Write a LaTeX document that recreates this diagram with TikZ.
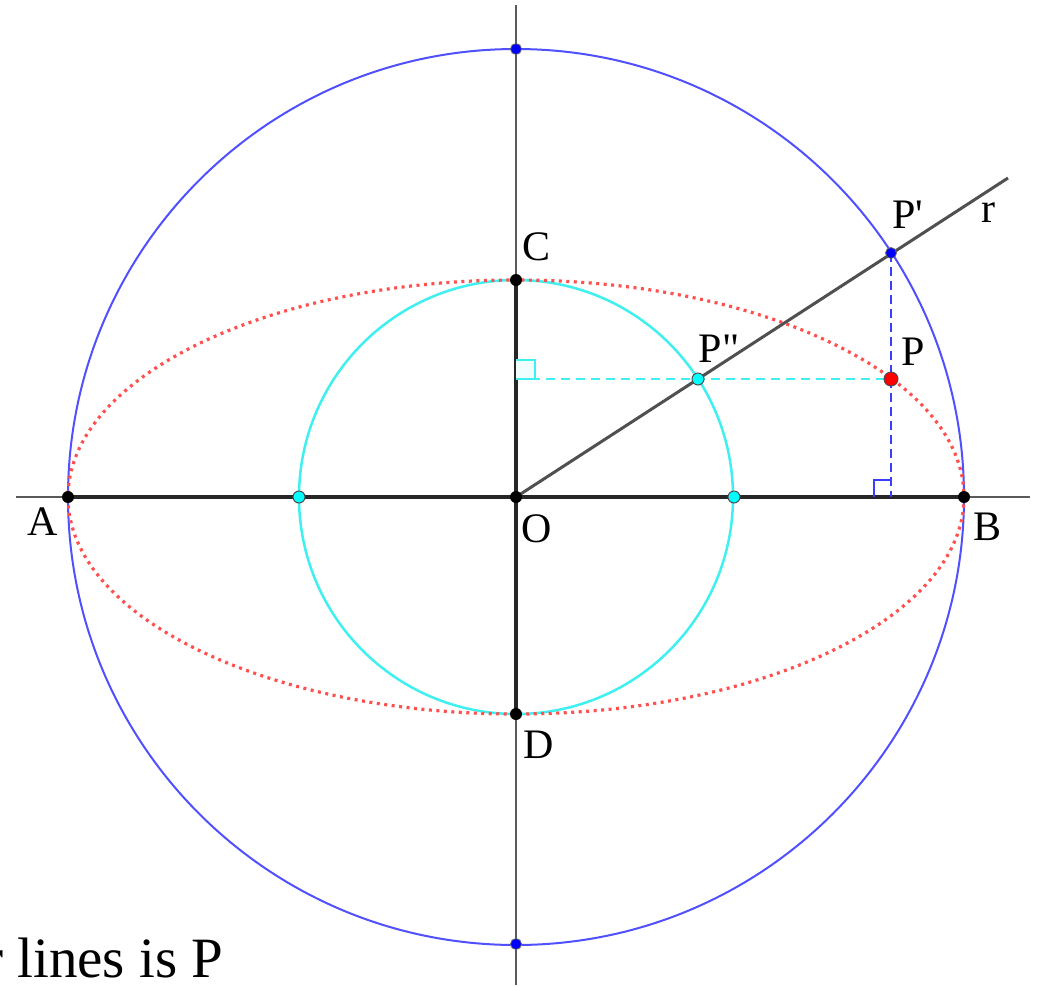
\documentclass[tikz,border=0pt]{standalone}
\usepackage{fontspec}
\setmainfont{Liberation Serif}
\newfontfamily\labfont{Liberation Serif}
\definecolor{cblue}{RGB}{80,80,255}
\definecolor{cdblue}{RGB}{60,60,255}
\definecolor{ccyan}{RGB}{64,240,240}
\definecolor{cdotc}{RGB}{0,255,255}
\definecolor{cred}{RGB}{255,80,80}
\definecolor{cgray}{RGB}{90,90,90}
\definecolor{crline}{RGB}{80,80,80}
\definecolor{cdotb}{RGB}{0,0,255}
\definecolor{cdotr}{RGB}{255,0,0}
\begin{document}
\begin{tikzpicture}[x=1pt,y=-1pt,
  bluec/.style={draw=cblue,line width=2pt},
  cyanc/.style={draw=ccyan,line width=2.5pt},
  redell/.style={draw=cred,line width=3.2pt,dash pattern=on 3pt off 4.5pt},
  axis/.style={draw=cgray,line width=1.6pt},
  seg/.style={draw=black!85,line width=3.5pt},
  rline/.style={draw=crline,line width=3pt},
  cdash/.style={draw=ccyan,line width=2.5pt,dash pattern=on 9pt off 6pt},
  bdash/.style={draw=cdblue,line width=2.2pt,dash pattern=on 9pt off 5pt},
  bdot/.style={circle,fill=black,inner sep=0pt,minimum size=12pt},
  cdot/.style={circle,fill=cdotc,draw=black!70,line width=1pt,inner sep=0pt,minimum size=12pt},
  bldot/.style={circle,fill=cdotb,draw=black!60,line width=0.8pt,inner sep=0pt,minimum size=11pt},
  rdot/.style={circle,fill=cdotr,draw=black!70,line width=1pt,inner sep=0pt,minimum size=14pt},
  lab/.style={font=\labfont\fontsize{42}{44}\selectfont,inner sep=0pt}
]
\useasboundingbox (0,0) rectangle (1038,986);
\fill[white] (0,0) rectangle (1038,986);
% coordinates
\coordinate (O) at (516,497);
\coordinate (A) at (68,497);
\coordinate (B) at (964,497);
\coordinate (C) at (516,280);
\coordinate (D) at (516,714);
\coordinate (T) at (516,49);
\coordinate (Bt) at (516,944);
\coordinate (L1) at (299,497);
\coordinate (L2) at (734,497);
\coordinate (Pp) at (891,253);
\coordinate (Ppp) at (698,379);
\coordinate (P) at (891,379);
\coordinate (F) at (891,497);
\coordinate (Cy) at (516,379);
\coordinate (Rend) at (1008,178);
\coordinate (XL) at (16,497);
\coordinate (XR) at (1030,497);
\coordinate (YT) at (516,5);
\coordinate (YB) at (516,985);
% axes
\draw[axis] (XL) -- (XR);
\draw[axis] (YT) -- (YB);
% circles
\draw[bluec] (O) circle[radius=448];
\draw[cyanc] (O) circle[radius=217];
\draw[redell] (O) ellipse[x radius=448,y radius=217];
% segments
\draw[seg] (A) -- (B);
\draw[seg] (C) -- (D);
\draw[rline] (O) -- (Rend);
% dashed
\draw[cdash] (Cy) -- (P);
\draw[bdash] (Pp) -- (F);
% right angle marks
\draw[draw=cdblue,line width=2pt] ([xshift=-17pt]F) -- ++(0,-17) -- ++(17,0);
\filldraw[draw=ccyan,fill=ccyan!8,line width=2pt] (Cy) -- ++(19,0) -- ++(0,-19) -- ++(-19,0);
% points
\node[bdot] (nA) at (A) {};
\node[bdot] (nB) at (B) {};
\node[bdot] (nC) at (C) {};
\node[bdot] (nD) at (D) {};
\node[bdot] (nO) at (O) {};
\node[bldot] (nT) at (T) {};
\node[bldot] (nBt) at (Bt) {};
\node[cdot] (nL1) at (L1) {};
\node[cdot] (nL2) at (L2) {};
\node[cdot] (nPpp) at (Ppp) {};
\node[bldot] (nPp) at (Pp) {};
\node[rdot] (nP) at (P) {};
% labels
\node[lab] (tA) at (43,522) {A};
\node[lab] (tB) at (987,527) {B};
\node[lab] (tC) at (536,247) {C};
\node[lab] (tD) at (539,745) {D};
\node[lab] (tO) at (537,529) {O};
\node[lab] (tPp) at (908,215) {P'};
\node[lab] (tPpp) at (719,349) {P"};
\node[lab] (tP) at (913,352) {P};
\node[lab] (tr) at (988,213) {r};
\node[font=\fontsize{57}{60}\selectfont,inner sep=0pt,anchor=base west] (txt) at (-16,977) {r lines is P};
\end{tikzpicture}
\end{document}
